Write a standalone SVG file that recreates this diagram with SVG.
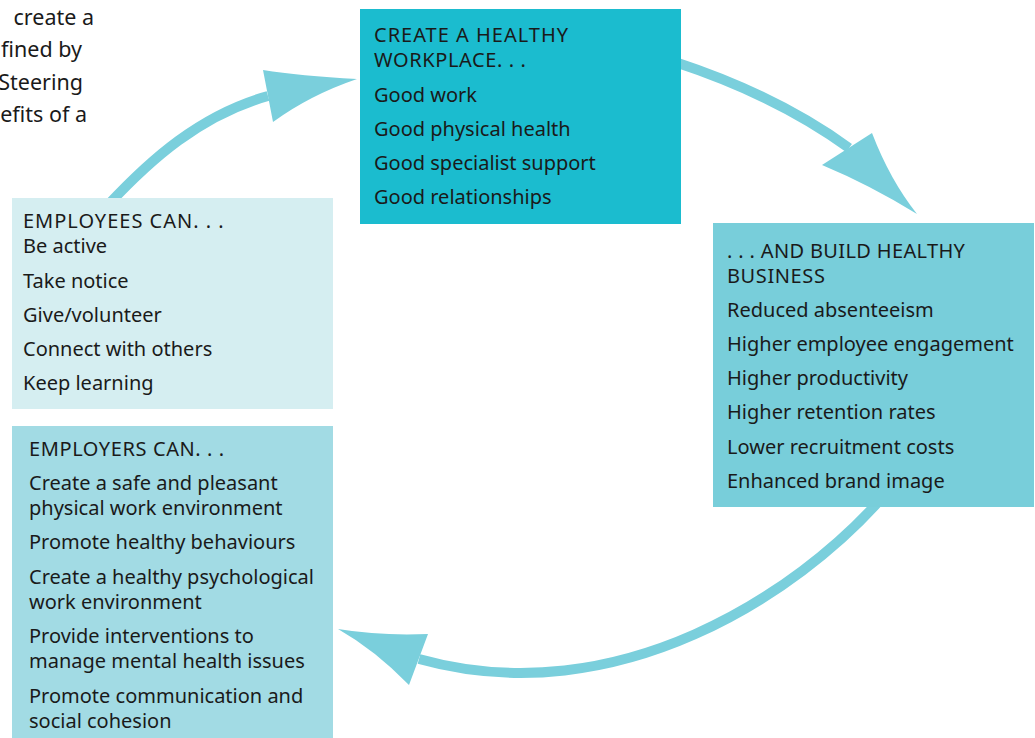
<svg xmlns="http://www.w3.org/2000/svg" width="1035" height="738" viewBox="0 0 1035 738">
<style>
text{font-family:"Noto Sans","DejaVu Sans",sans-serif;font-size:20px;fill:#1a1a1a}
.h{letter-spacing:0.6px}
.intro{font-size:21.5px}
.shaft{fill:none;stroke:#7acfdc;stroke-width:10}
.head{fill:#7acfdc;stroke:none}
</style>
<rect width="1035" height="738" fill="#ffffff"/>
<g id="intro-text">
<text class="intro" x="94" y="25" text-anchor="end">create a</text>
<text class="intro" x="82" y="57" text-anchor="end">fined by</text>
<text class="intro" x="83" y="90" text-anchor="end">Steering</text>
<text class="intro" x="87" y="122" text-anchor="end">efits of a</text>
</g>
<g id="connectors">
<path class="shaft" d="M108,205 C150,160 200,115 268,96"/>
<path class="head" d="M263,70 Q300,76 357,79 Q310,95 273,122 Z"/>
<path class="shaft" d="M675,62 C745,85 805,116 849,148"/>
<path class="head" d="M822,165 L872,133 Q890,180 917,214 Q870,185 822,165 Z"/>
<path class="shaft" d="M880,500 C800,590 620,715 419,659"/>
<path class="head" d="M428,634 Q380,636 338,629 Q375,650 409,685 Z"/>
</g>
<g id="node-workplace">
<rect x="360" y="9" width="321" height="215" fill="#1bbccf"/>
<text class="h" x="374" y="42" style="letter-spacing:1px">CREATE A HEALTHY</text>
<text class="h" x="374" y="67">WORKPLACE. . .</text>
<text x="374" y="102">Good work</text>
<text x="374" y="136">Good physical health</text>
<text x="374" y="170">Good specialist support</text>
<text x="374" y="204">Good relationships</text>
</g>
<g id="node-business">
<rect x="713" y="223" width="321" height="284" fill="#78ceda"/>
<text class="h" x="727" y="258" style="letter-spacing:0.35px">. . . AND BUILD HEALTHY</text>
<text class="h" x="727" y="283">BUSINESS</text>
<text x="727" y="317">Reduced absenteeism</text>
<text x="727" y="351">Higher employee engagement</text>
<text x="727" y="385">Higher productivity</text>
<text x="727" y="419">Higher retention rates</text>
<text x="727" y="454">Lower recruitment costs</text>
<text x="727" y="488">Enhanced brand image</text>
</g>
<g id="node-employees">
<rect x="12" y="198" width="321" height="211" fill="#d5eef1"/>
<text class="h" x="23" y="228" style="letter-spacing:1px">EMPLOYEES CAN. . .</text>
<text x="23" y="253">Be active</text>
<text x="23" y="288">Take notice</text>
<text x="23" y="322">Give/volunteer</text>
<text x="23" y="356">Connect with others</text>
<text x="23" y="390">Keep learning</text>
</g>
<g id="node-employers">
<rect x="12" y="426" width="321" height="312" fill="#a2dbe4"/>
<text class="h" x="29" y="456">EMPLOYERS CAN. . .</text>
<text x="29" y="490">Create a safe and pleasant</text>
<text x="29" y="515">physical work environment</text>
<text x="29" y="549">Promote healthy behaviours</text>
<text x="29" y="584">Create a healthy psychological</text>
<text x="29" y="609">work environment</text>
<text x="29" y="643">Provide interventions to</text>
<text x="29" y="668">manage mental health issues</text>
<text x="29" y="703">Promote communication and</text>
<text x="29" y="728">social cohesion</text>
</g>
</svg>
